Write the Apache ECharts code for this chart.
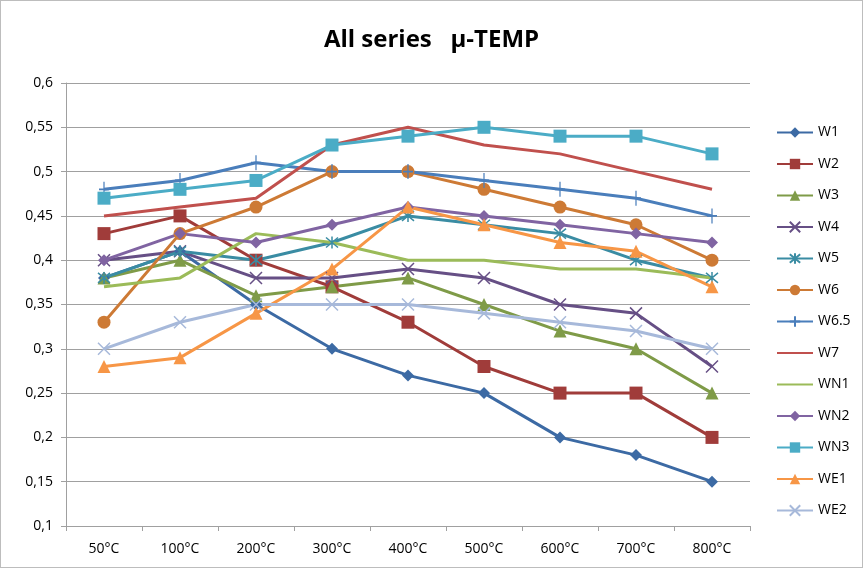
<!DOCTYPE html>
<html>
<head>
<meta charset="utf-8">
<script src="https://cdn.jsdelivr.net/npm/echarts@6/dist/echarts.min.js"></script>
<style>
  html, body { margin: 0; padding: 0; background: #fff; }
  #chart { width: 861px; height: 566px; border: 1px solid #bdbdbd; }
</style>
</head>
<body>
<div id="chart"></div>
<script>
var categories = ["50°C", "100°C", "200°C", "300°C", "400°C", "500°C", "600°C", "700°C", "800°C"];

var W1 = [0.38, 0.41, 0.35, 0.30, 0.27, 0.25, 0.20, 0.18, 0.15];
var W2 = [0.43, 0.45, 0.40, 0.37, 0.33, 0.28, 0.25, 0.25, 0.20];
var W3 = [0.38, 0.40, 0.36, 0.37, 0.38, 0.35, 0.32, 0.30, 0.25];
var W4 = [0.40, 0.41, 0.38, 0.38, 0.39, 0.38, 0.35, 0.34, 0.28];
var W5 = [0.38, 0.41, 0.40, 0.42, 0.45, 0.44, 0.43, 0.40, 0.38];
var W6 = [0.33, 0.43, 0.46, 0.50, 0.50, 0.48, 0.46, 0.44, 0.40];
var W65 = [0.48, 0.49, 0.51, 0.50, 0.50, 0.49, 0.48, 0.47, 0.45];
var W7 = [0.45, 0.46, 0.47, 0.53, 0.55, 0.53, 0.52, 0.50, 0.48];
var WN1 = [0.37, 0.38, 0.43, 0.42, 0.40, 0.40, 0.39, 0.39, 0.38];
var WN2 = [0.40, 0.43, 0.42, 0.44, 0.46, 0.45, 0.44, 0.43, 0.42];
var WN3 = [0.47, 0.48, 0.49, 0.53, 0.54, 0.55, 0.54, 0.54, 0.52];
var WE1 = [0.28, 0.29, 0.34, 0.39, 0.46, 0.44, 0.42, 0.41, 0.37];
var WE2 = [0.30, 0.33, 0.35, 0.35, 0.35, 0.34, 0.33, 0.32, 0.30];

var yTicks = [0.1, 0.15, 0.2, 0.25, 0.3, 0.35, 0.4, 0.45, 0.5, 0.55, 0.6];

// stroke-only marker shapes
var crossX = "path://M0,0L10,10M10,0L0,10";
var star = "path://M0,0L10,10M10,0L0,10M5,-1L5,11";
var plus = "path://M5,0L5,14M4,7L6,7";

function mk(name, data, color, symbol, size, stroke) {
  var s = {
    name: name,
    type: "line",
    data: data,
    symbol: symbol,
    symbolSize: size,
    showSymbol: symbol !== "none",
    lineStyle: { color: color, width: 3 },
    itemStyle: { color: color },
    z: 2
  };
  if (stroke) {
    s.itemStyle = { color: "rgba(0,0,0,0)", borderColor: color, borderWidth: 1.5 };
  }
  return s;
}

var chart = echarts.init(document.getElementById("chart"));

var option = {
  animation: false,
  textStyle: { fontFamily: "Open Sans" },
  title: {
    text: "All series   μ-TEMP",
    left: "center",
    top: 22,
    textStyle: { fontSize: 24, fontWeight: "bold", color: "#000", fontFamily: "Open Sans" }
  },
  legend: {
    orient: "vertical",
    left: 770,
    top: 119,
    itemWidth: 36,
    itemHeight: 13,
    itemGap: 16.5,
    textStyle: { fontSize: 14, color: "#000", lineHeight: 15 },
    data: [
      "W1", "W2", "W3", "W4", "W5", "W6", "W6.5",
      { name: "W7", itemStyle: { opacity: 0 } },
      { name: "WN1", itemStyle: { opacity: 0 } },
      "WN2", "WN3", "WE1", "WE2"
    ]
  },
  grid: { left: 65, right: 112, top: 82, bottom: 41 },
  xAxis: {
    type: "category",
    data: categories,
    boundaryGap: true,
    axisLine: { lineStyle: { color: "#a0a0a0", width: 1 } },
    axisTick: { show: true, length: 5, lineStyle: { color: "#a0a0a0" } },
    axisLabel: { fontSize: 14, color: "#000", margin: 16 }
  },
  yAxis: {
    type: "value",
    min: 0.1,
    max: 0.6,
    interval: 0.05,
    axisLine: { show: true, lineStyle: { color: "#a0a0a0", width: 1 } },
    axisTick: { show: true, length: 5, lineStyle: { color: "#a0a0a0" } },
    axisLabel: {
      fontSize: 14,
      color: "#000",
      margin: 13,
      formatter: function (v) {
        var t = yTicks.reduce(function (a, b) { return Math.abs(b - v) < Math.abs(a - v) ? b : a; });
        return String(t).replace(".", ",");
      }
    },
    splitLine: { show: true, lineStyle: { color: "#a0a0a0", width: 1 } }
  },
  series: [
    mk("W1", W1, "#3C6AA4", "diamond", 12),
    mk("W2", W2, "#A03C3A", "rect", 13),
    mk("W3", W3, "#7F9B48", "triangle", 13),
    mk("W4", W4, "#664F85", crossX, 12, true),
    mk("W5", W5, "#3A8CA3", star, 12, true),
    mk("W6", W6, "#CD7A35", "circle", 13),
    mk("W6.5", W65, "#4A7EBB", plus, [10, 15], true),
    mk("W7", W7, "#C0504D", "none", 0),
    mk("WN1", WN1, "#9BBB59", "none", 0),
    mk("WN2", WN2, "#8064A2", "diamond", 12),
    mk("WN3", WN3, "#4BACC6", "rect", 13),
    mk("WE1", WE1, "#F79646", "triangle", 13),
    mk("WE2", WE2, "#A7B9DA", crossX, 12, true)
  ]
};

chart.setOption(option);
window.addEventListener("resize", function () {
  chart.resize();
});
</script>
</body>
</html>
